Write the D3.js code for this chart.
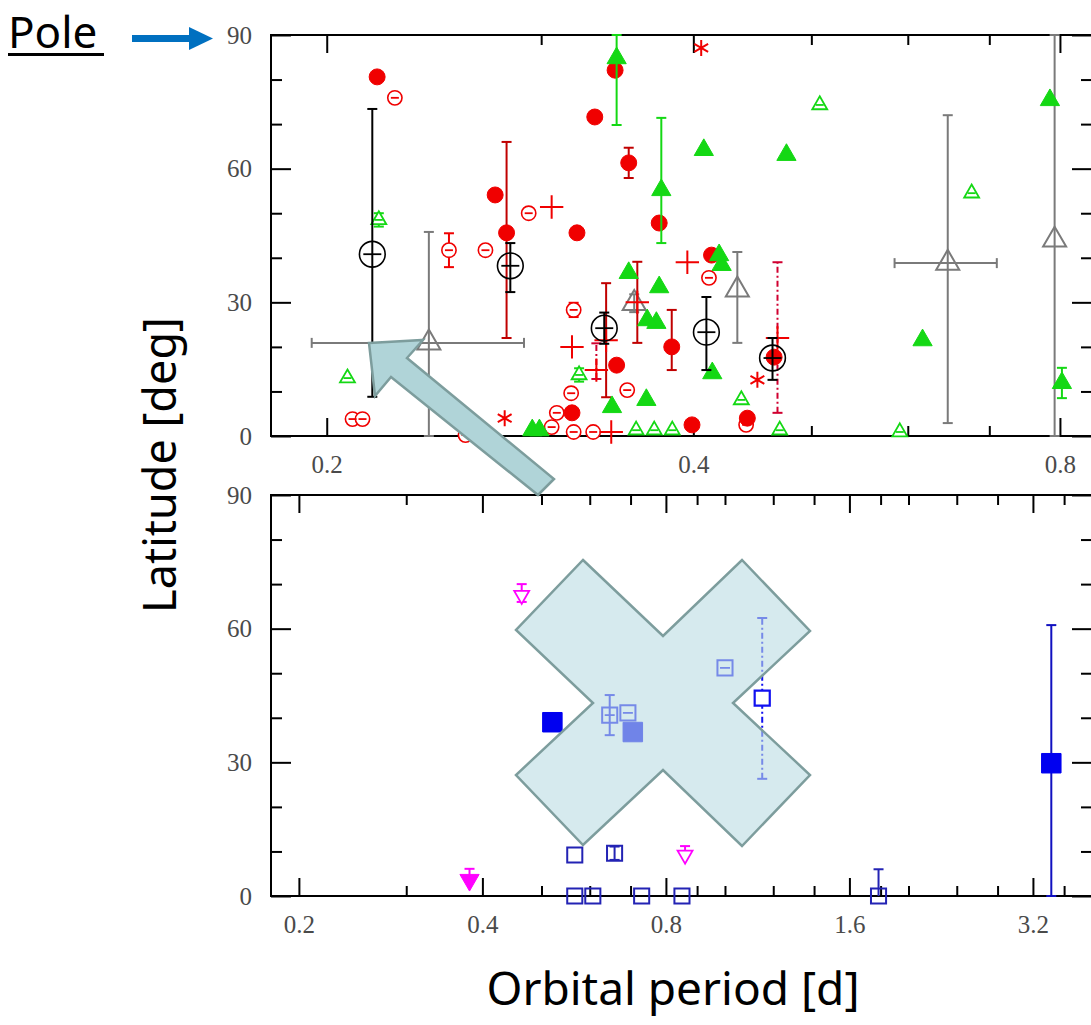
<!DOCTYPE html>
<html>
<head>
<meta charset="utf-8">
<script src="https://cdnjs.cloudflare.com/ajax/libs/d3/7.8.5/d3.min.js"></script>
<style>
  body { margin: 0; background: #fff; }
</style>
</head>
<body>
<div id="chart"></div>
<script>
// ---- data: [period (d), latitude, errLow, errHigh, periodLow, periodHigh] ----

// top panel
const redFilled = [[0.220,80.6],[0.332,71.6],[0.345,82.1],[0.354,61.3,3.4,3.4],[0.275,54.1],
  [0.281,45.6,23.6,20.4],[0.321,45.6],[0.375,47.8],[0.384,20.0,5.2,8.3],[0.346,15.9],
  [0.318,5.2],[0.399,2.5],[0.443,4.0],[0.414,40.6],[0.466,17.7]];
const redOpen = [[0.2275,75.9],[0.252,41.7,3.8,3.8],[0.270,41.7],[0.293,50.0],[0.319,28.3,1.6,1.6],
  [0.353,10.3],[0.3175,9.6],[0.210,3.8],[0.214,3.8],[0.309,5.2],[0.412,35.5],[0.442,2.5],
  [0.306,2.0],[0.260,0.2],[0.331,0.9],[0.319,0.9]];
const redStar = [[0.406,87.1],[0.280,4.0],[0.4515,12.6]];
const redCross = [[0.3955,39.0],[0.318,20.0],[0.306,51.4],[0.3425,0.9],[0.3598,30.0,9.1,9.1],
  [0.3392,21.5,12.8,12.8]];
const redCrossDashed = [[0.469,22.0,16.8,17.0],[0.333,14.8,2.0,6.0]];
const greenFilled = [[0.346,84.8,15.0,5.2],[0.3765,55.2,11.9,16.2],[0.354,36.6],[0.375,33.4],
  [0.373,25.4],[0.366,8.1],[0.343,6.5],[0.295,1.3],[0.408,64.2],[0.477,63.1],[0.785,75.4],
  [0.617,21.5],[0.803,11.9,3.4,3.4],[0.422,38.4],[0.4146,14.1],[0.3666,26.0],[0.420,40.6],[0.299,1.3]];
const greenOpen = [[0.2207,48.5,1.5,1.5],[0.208,13.0],[0.508,74.3],[0.677,54.5],[0.591,0.9],
  [0.471,1.3],[0.438,8.1],[0.3223,13.7,1.5,1.5],[0.359,1.3],[0.3715,1.3],[0.3844,1.3]];
const blackCircle = [[0.218,40.8,32.0,32.6],[0.283,38.2,5.9,5.1],[0.338,24.2,3.5,3.5],
  [0.410,23.3,8.5,7.9],[0.4646,17.5,4.9,4.5]];
const grayTri = [[0.2426,20.9,20.9,24.9,0.1944,0.2904],[0.3577,29.8,2,2],[0.4347,32.8,11.9,8.5],
  [0.6471,38.8,35.9,33.2,0.5852,0.710],[0.792,44.0,44.0,46.0]];

// bottom panel
const magentaOpen = [[0.464,67.5,1.5,2.5],[0.86,9.2,0,2.0]];
const magentaFilled = [[0.381,3.6,0,2.5]];
const blueFilled = [[0.521,39.0],[0.706,36.8],[3.43,29.8,29.8,31.0]];
const blueOpen = [[0.647,40.6,4.5,4.5],[0.693,41.1],[1.0,51.2]];
const blueOpenDashed = [[1.151,44.4,18.1,18.0]];
const navyOpen = [[0.567,0],[0.607,0],[0.730,0],[0.85,0],[1.786,0,0,6.0],[0.567,9.2],[0.659,9.6,1.5,1.5]];

// ticks
const topMajor = [0.2, 0.4, 0.8];
const topMinor = [0.3, 0.5, 0.6, 0.7];
const botMajor = [0.2, 0.4, 0.8, 1.6, 3.2];
const botMinor = [0.3, 0.5, 0.6, 0.7, 0.9, 1.0, 1.2, 1.4, 1.8, 2.0, 2.4, 2.8, 3.6];
const latMajor = [0, 30, 60, 90];
const latMinor = [10, 20, 40, 50, 70, 80];

const W = 1091, H = 1025;
const L = 271, R = 1092;
const SANS = 'Noto Sans, Open Sans, sans-serif';

const svg = d3.select('#chart').append('svg')
  .attr('width', W).attr('height', H)
  .style('font-family', 'Liberation Serif, serif');

svg.append('rect').attr('width', W).attr('height', H).attr('fill', '#fff');

function makePanel(y0, y1, domain, major, minor) {
  const x = d3.scaleLog().domain(domain).range([L, R]);
  const y = d3.scaleLinear().domain([0, 90]).range([y1, y0]);
  const g = svg.append('g');

  const fmt = d => d3.format('.1f')(d);
  // x ticks, bottom with labels
  g.append('g').attr('transform', `translate(0,${y1})`)
    .call(d3.axisBottom(x).tickValues(major).tickSizeInner(-18).tickSizeOuter(0).tickPadding(19).tickFormat(fmt));
  g.append('g').attr('transform', `translate(0,${y1})`)
    .call(d3.axisBottom(x).tickValues(minor).tickSizeInner(-10).tickSizeOuter(0).tickFormat(''));
  g.append('g').attr('transform', `translate(0,${y0})`)
    .call(d3.axisTop(x).tickValues(major).tickSizeInner(-18).tickSizeOuter(0).tickFormat(''));
  g.append('g').attr('transform', `translate(0,${y0})`)
    .call(d3.axisTop(x).tickValues(minor).tickSizeInner(-10).tickSizeOuter(0).tickFormat(''));
  // y ticks
  g.append('g').attr('transform', `translate(${L},0)`)
    .call(d3.axisLeft(y).tickValues(latMajor).tickSizeInner(-20).tickSizeOuter(0).tickPadding(19));
  g.append('g').attr('transform', `translate(${L},0)`)
    .call(d3.axisLeft(y).tickValues(latMinor).tickSizeInner(-11).tickSizeOuter(0).tickFormat(''));
  g.append('g').attr('transform', `translate(${R},0)`)
    .call(d3.axisRight(y).tickValues(latMajor).tickSizeInner(-20).tickSizeOuter(0).tickFormat(''));
  g.append('g').attr('transform', `translate(${R},0)`)
    .call(d3.axisRight(y).tickValues(latMinor).tickSizeInner(-11).tickSizeOuter(0).tickFormat(''));

  g.selectAll('.domain').remove();
  g.selectAll('.tick line').attr('stroke', '#000').attr('stroke-width', 2);
  g.selectAll('.tick text').attr('font-size', 25).attr('fill', '#4a4a4a')
    .attr('font-family', 'Liberation Serif, serif');

  g.append('rect').attr('x', L).attr('y', y0).attr('width', R - L).attr('height', y1 - y0)
    .attr('fill', 'none').attr('stroke', '#000').attr('stroke-width', 2);

  return { x, y, g: svg.append('g') };
}

function errorBars(p, data, color, dash) {
  const cap = 5;
  data.forEach(d => {
    const cx = p.x(d[0]), cy = p.y(d[1]);
    if (d[2] != null) {
      const ya = p.y(d[1] - d[2]), yb = p.y(d[1] + d[3]);
      p.g.append('line').attr('x1', cx).attr('x2', cx).attr('y1', ya).attr('y2', yb)
        .attr('stroke', color).attr('stroke-width', 2).attr('stroke-dasharray', dash || null);
      if (d[2] > 0) p.g.append('line').attr('x1', cx - cap).attr('x2', cx + cap).attr('y1', ya).attr('y2', ya)
        .attr('stroke', color).attr('stroke-width', 2);
      p.g.append('line').attr('x1', cx - cap).attr('x2', cx + cap).attr('y1', yb).attr('y2', yb)
        .attr('stroke', color).attr('stroke-width', 2);
    }
    if (d[4] != null) {
      const xa = p.x(d[4]), xb = p.x(d[5]);
      p.g.append('line').attr('x1', xa).attr('x2', xb).attr('y1', cy).attr('y2', cy)
        .attr('stroke', color).attr('stroke-width', 2);
      [xa, xb].forEach(xx => p.g.append('line').attr('x1', xx).attr('x2', xx)
        .attr('y1', cy - cap).attr('y2', cy + cap).attr('stroke', color).attr('stroke-width', 2));
    }
  });
}

function markers(p, data, type, size, fill, stroke, sw, rotate) {
  p.g.selectAll(null).data(data).enter().append('path')
    .attr('d', d3.symbol().type(type).size(size))
    .attr('transform', d => `translate(${p.x(d[0])},${p.y(d[1])})` + (rotate ? ` rotate(${rotate})` : ''))
    .attr('fill', fill).attr('stroke', stroke).attr('stroke-width', sw);
}

function innerBar(p, data, color, half) {
  data.forEach(d => {
    const cx = p.x(d[0]), cy = p.y(d[1]);
    p.g.append('line').attr('x1', cx - half).attr('x2', cx + half).attr('y1', cy).attr('y2', cy)
      .attr('stroke', color).attr('stroke-width', 1.8);
  });
}

// ---- top panel ----
const RED = '#f00000', GREEN = '#14d814';
const topPanel = makePanel(35, 436, [0.18, 0.85], topMajor, topMinor);

errorBars(topPanel, grayTri, '#7a7a7a');
markers(topPanel, grayTri, d3.symbolTriangle2, 380, 'none', '#7a7a7a', 2);

errorBars(topPanel, redFilled, '#c00000');
errorBars(topPanel, redCross, '#c00000');
errorBars(topPanel, redCrossDashed, '#d00030', '6,3,2,3');
errorBars(topPanel, redOpen, RED);
markers(topPanel, redOpen, d3.symbolCircle, 160, '#fff', RED, 1.6);
innerBar(topPanel, redOpen, RED, 4);
markers(topPanel, redCross, d3.symbolPlus, 180, 'none', RED, 2);
markers(topPanel, redCrossDashed, d3.symbolPlus, 180, 'none', RED, 2);
markers(topPanel, redStar, d3.symbolAsterisk, 180, 'none', RED, 2);
markers(topPanel, redFilled, d3.symbolCircle, 200, RED, RED, 1);

errorBars(topPanel, greenOpen, GREEN);
markers(topPanel, greenOpen, d3.symbolTriangle2, 160, '#fff', GREEN, 1.8);
innerBar(topPanel, greenOpen, GREEN, 4);
errorBars(topPanel, greenFilled, GREEN);
markers(topPanel, greenFilled, d3.symbolTriangle, 160, GREEN, GREEN, 1);

errorBars(topPanel, blackCircle, '#000');
markers(topPanel, blackCircle, d3.symbolCircle, 520, 'none', '#000', 1.6);
innerBar(topPanel, blackCircle, '#000', 9);

// ---- bottom panel ----
const botPanel = makePanel(495, 896, [0.18, 4.0], botMajor, botMinor);

errorBars(botPanel, magentaOpen, '#ff00ff');
markers(botPanel, magentaOpen, d3.symbolTriangle2, 160, '#fff', '#ff00ff', 1.8, 180);
errorBars(botPanel, magentaFilled, '#ff00ff');
markers(botPanel, magentaFilled, d3.symbolTriangle, 160, '#ff00ff', '#ff00ff', 1, 180);

errorBars(botPanel, navyOpen, '#2323b4');
markers(botPanel, navyOpen, d3.symbolSquare2, 290, 'none', '#2323b4', 2);
errorBars(botPanel, blueOpen, '#1010f0');
markers(botPanel, blueOpen, d3.symbolSquare2, 290, 'none', '#1010f0', 2);
innerBar(botPanel, blueOpen, '#1010f0', 5);
errorBars(botPanel, blueOpenDashed, '#1010f0', '6,3,2,3');
markers(botPanel, blueOpenDashed, d3.symbolSquare2, 290, '#fff', '#1010f0', 2.2);
errorBars(botPanel, blueFilled, '#1010c0');
markers(botPanel, blueFilled, d3.symbolSquare, 380, '#0000f0', '#0000f0', 1);

// ---- overlays ----
const ov = svg.append('g');
const xShape = [[583,560],[663,636],[742,560],[810,631],[733,703],[810,775],[742,846],[663,770],
  [583,845],[516,775],[593,703],[516,630]];
ov.append('path').attr('d', d3.line()(xShape) + 'Z')
  .attr('fill', 'rgba(186,220,226,0.6)').attr('stroke', '#7d9d9d').attr('stroke-width', 2.5);

const arrowShape = [[369,343],[423,340],[407,358],[554,479],[538,495],[391,377],[375,396]];
ov.append('path').attr('d', d3.line()(arrowShape) + 'Z')
  .attr('fill', '#b0d4d8').attr('stroke', '#7d9d9d').attr('stroke-width', 2.5);

// Pole label and arrow
ov.append('text').attr('x', 8).attr('y', 48).text('Pole')
  .attr('font-family', SANS).attr('font-size', 44).attr('fill', '#000');
ov.append('rect').attr('x', 8).attr('y', 53).attr('width', 96).attr('height', 3).attr('fill', '#000');
ov.append('rect').attr('x', 132).attr('y', 35).attr('width', 60).attr('height', 7).attr('fill', '#0070c0');
ov.append('path').attr('d', d3.line()([[189,27],[213,38.5],[189,50]]) + 'Z').attr('fill', '#0070c0');

// axis titles
svg.append('text').attr('transform', 'translate(176,465) rotate(-90)')
  .attr('text-anchor', 'middle').text('Latitude [deg]')
  .attr('font-family', SANS).attr('font-size', 45).attr('fill', '#000');
svg.append('text').attr('x', 673).attr('y', 1005)
  .attr('text-anchor', 'middle').text('Orbital period [d]')
  .attr('font-family', SANS).attr('font-size', 46).attr('fill', '#000');
</script>
</body>
</html>
